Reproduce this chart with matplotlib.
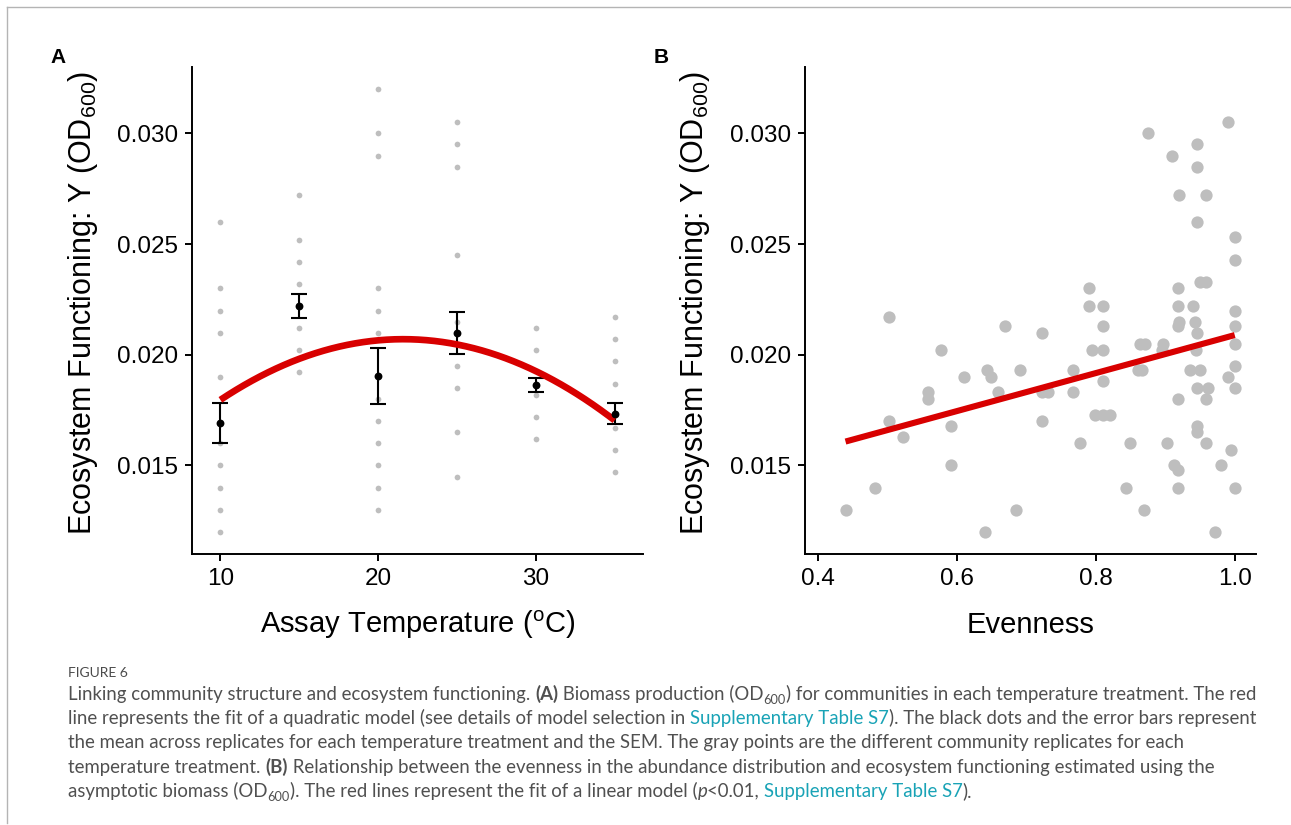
import matplotlib
matplotlib.use('Agg')
import matplotlib.pyplot as plt
from matplotlib.lines import Line2D
import numpy as np

W, H, DPI = 1291, 825, 100

# ---- panel A: replicate biomass per assay temperature ----
TEMPS = [10, 15, 20, 25, 30, 35]
REPS_10 = [0.026, 0.023, 0.022, 0.021, 0.019, 0.016, 0.015, 0.014, 0.013, 0.012]
REPS_15 = [0.0272, 0.0252, 0.0242, 0.0232, 0.0212, 0.0202, 0.0192]
REPS_20 = [0.032, 0.030, 0.029, 0.023, 0.022, 0.021, 0.018, 0.017, 0.016, 0.015, 0.014, 0.013]
REPS_25 = [0.0305, 0.0295, 0.0285, 0.0245, 0.0215, 0.0195, 0.0185, 0.0165, 0.0145]
REPS_30 = [0.0212, 0.0202, 0.0182, 0.0172, 0.0162]
REPS_35 = [0.0217, 0.0207, 0.0197, 0.0187, 0.0167, 0.0157, 0.0147]
REPS = [REPS_10, REPS_15, REPS_20, REPS_25, REPS_30, REPS_35]
MEAN_A = [0.01692, 0.02219, 0.01904, 0.02099, 0.01863, 0.01734]
SEM_A = [0.00092, 0.00055, 0.00126, 0.00096, 0.00030, 0.00048]
QUAD_COEF = [0.011192, 8.81e-4, -2.04e-5]   # c0 + c1*T + c2*T^2

# ---- panel B: evenness vs biomass ----
EVENNESS = [0.440, 0.482, 0.503, 0.503, 0.523, 0.558, 0.559, 0.577, 0.592, 0.592,
            0.610, 0.640, 0.644, 0.650, 0.659, 0.670, 0.686, 0.691, 0.722, 0.722,
            0.722, 0.732, 0.767, 0.767, 0.777, 0.790, 0.790, 0.794, 0.799, 0.811,
            0.811, 0.811, 0.811, 0.810, 0.821, 0.843, 0.850, 0.864, 0.871, 0.861,
            0.866, 0.870, 0.875, 0.897, 0.895, 0.903, 0.910, 0.913, 0.918, 0.918,
            0.918, 0.918, 0.920, 0.920, 0.918, 0.918, 0.935, 0.940, 0.943, 0.945,
            0.946, 0.946, 0.946, 0.944, 0.950, 0.946, 0.945, 0.946, 0.950, 0.959,
            0.959, 0.961, 0.958, 0.959, 0.971, 0.980, 0.991, 0.991, 0.994, 1.000,
            1.000, 1.000, 1.000, 1.000, 1.000, 1.000, 1.000]
BIOMASS_B = [0.0130, 0.0140, 0.0217, 0.0170, 0.0163, 0.0183, 0.0180, 0.0202, 0.0168, 0.0150,
             0.0190, 0.0120, 0.0193, 0.0190, 0.0183, 0.0213, 0.0130, 0.0193, 0.0210, 0.0183,
             0.0170, 0.0183, 0.0193, 0.0183, 0.0160, 0.0230, 0.0222, 0.0202, 0.0173, 0.0222,
             0.0213, 0.0202, 0.0188, 0.0173, 0.0173, 0.0140, 0.0160, 0.0205, 0.0205, 0.0193,
             0.0193, 0.0130, 0.0300, 0.0205, 0.0202, 0.0160, 0.0290, 0.0150, 0.0148, 0.0140,
             0.0230, 0.0222, 0.0272, 0.0215, 0.0213, 0.0180, 0.0193, 0.0222, 0.0215, 0.0295,
             0.0285, 0.0260, 0.0210, 0.0202, 0.0193, 0.0185, 0.0168, 0.0165, 0.0233, 0.0233,
             0.0272, 0.0185, 0.0180, 0.0160, 0.0120, 0.0150, 0.0305, 0.0190, 0.0157, 0.0253,
             0.0243, 0.0220, 0.0213, 0.0205, 0.0195, 0.0185, 0.0140]
LIN_COEF = [0.01230, 0.00859]   # intercept, slope

YTICKS = [0.015, 0.020, 0.025, 0.030]
YTICK_LABELS = ['0.015', '0.020', '0.025', '0.030']
XTICKS_A = [10, 20, 30]
XTICKS_B = [0.4, 0.6, 0.8, 1.0]
XTICK_LABELS_B = ['0.4', '0.6', '0.8', '1.0']

COLORS = {
    'rep': '#bebebe',
    'fit': '#d80000',
    'mean': 'black',
    'caption': '#505050',
    'link': '#19a3b6',
    'frame': '#b4b4b4',
}

plt.rcParams.update({
    'font.family': ['Liberation Sans', 'DejaVu Sans'],
    'mathtext.fontset': 'custom',
    'mathtext.rm': 'Liberation Sans',
    'mathtext.it': 'Liberation Sans:italic',
    'axes.linewidth': 1.4,
    'xtick.major.width': 1.4,
    'ytick.major.width': 1.4,
    'xtick.major.size': 5,
    'ytick.major.size': 5,
    'xtick.labelsize': 17.5,
    'ytick.labelsize': 17.5,
    'xtick.major.pad': 5,
    'ytick.major.pad': 5,
})

YLABEL = 'Ecosystem Functioning: Y (OD$_{600}$)'
CAP_FONT = 'Lato'


def px_axes(fig, left, top, right, bottom):
    return fig.add_axes([left / W, 1 - bottom / H, (right - left) / W, (bottom - top) / H])


def style_axes(ax):
    ax.spines['top'].set_visible(False)
    ax.spines['right'].set_visible(False)
    ax.set_ylim(0.011, 0.033)
    ax.set_yticks(YTICKS)
    ax.set_yticklabels(YTICK_LABELS)
    ax.tick_params(colors='black')


def text_width(fig, renderer, s, **kw):
    # measure with a trailing bar so spaces are counted
    t = fig.text(0, 0, s + '|', **kw)
    b = fig.text(0, 0, '|', **kw)
    w = t.get_window_extent(renderer).width - b.get_window_extent(renderer).width
    t.remove()
    b.remove()
    return w


def part_kw(style, size):
    kw = dict(family=CAP_FONT, fontsize=size, color=COLORS['caption'])
    if style == 'b':
        kw['weight'] = 'bold'
    elif style == 'link':
        kw['color'] = COLORS['link']
    elif style == 'i':
        kw['style'] = 'italic'
    elif style == 'sub':
        kw['fontsize'] = size * 0.68
    return kw


def caption_line(fig, renderer, x, y, parts, size, draw=True):
    for s, style in parts:
        kw = part_kw(style, size)
        base = y + (4 if style == 'sub' else 0)
        if draw:
            fig.text(x / W, 1 - base / H, s, va='baseline', ha='left', **kw)
        x += text_width(fig, renderer, s, **kw)
    return x


def main():
    fig = plt.figure(figsize=(W / DPI, H / DPI), dpi=DPI)
    fig.patch.set_facecolor('white')

    # panel A
    ax = px_axes(fig, 192, 67, 643, 554)
    for t, r in zip(TEMPS, REPS):
        ax.scatter(np.full(len(r), t), r, s=17, color=COLORS['rep'], lw=0, zorder=1)
    ax.errorbar(TEMPS, MEAN_A, yerr=SEM_A, fmt='none', ecolor='black',
                elinewidth=1.5, capsize=5.8, capthick=1.5, zorder=2)
    tt = np.linspace(TEMPS[0], TEMPS[-1], 200)
    ax.plot(tt, QUAD_COEF[0] + QUAD_COEF[1] * tt + QUAD_COEF[2] * tt ** 2,
            color=COLORS['fit'], lw=4.8, solid_capstyle='butt', zorder=3)
    ax.scatter(TEMPS, MEAN_A, s=32, color=COLORS['mean'], lw=0, zorder=4)
    style_axes(ax)
    ax.set_xlim(8.2, 36.8)
    ax.set_xticks(XTICKS_A)
    ax.set_xlabel('Assay Temperature ($^{\\mathrm{o}}$C)', fontsize=21, va='center')
    ax.xaxis.set_label_coords(0.5, -0.145)
    ax.set_ylabel(YLABEL, fontsize=22, va='center')
    ax.yaxis.set_label_coords(-0.242, 0.515)

    # panel B
    bx = px_axes(fig, 805, 67, 1256, 554)
    bx.scatter(EVENNESS, BIOMASS_B, s=78, color=COLORS['rep'], lw=0, zorder=1)
    ee = np.array([min(EVENNESS), max(EVENNESS)])
    bx.plot(ee, LIN_COEF[0] + LIN_COEF[1] * ee, color=COLORS['fit'], lw=4.4,
            solid_capstyle='butt', zorder=2)
    style_axes(bx)
    bx.set_xlim(0.3817, 1.0306)
    bx.set_xticks(XTICKS_B)
    bx.set_xticklabels(XTICK_LABELS_B)
    bx.set_xlabel('Evenness', fontsize=21, va='center')
    bx.xaxis.set_label_coords(0.5, -0.145)
    bx.set_ylabel(YLABEL, fontsize=22, va='center')
    bx.yaxis.set_label_coords(-0.244, 0.515)

    fig.text(50 / W, 1 - 63 / H, 'A', fontsize=15, weight='bold', va='baseline')
    fig.text(654 / W, 1 - 63 / H, 'B', fontsize=15, weight='bold', va='baseline')

    # page frame (only top and left edges show)
    fig.add_artist(Line2D([7 / W, 1], [1 - 7 / H, 1 - 7 / H], color=COLORS['frame'], lw=1))
    fig.add_artist(Line2D([7 / W, 7 / W], [1 - 7 / H, 1 - 823 / H], color=COLORS['frame'], lw=1))

    # caption
    renderer = fig.canvas.get_renderer()
    lines = [
        [('Linking community structure and ecosystem functioning. ', ''), ('(A)', 'b'),
         (' Biomass production (OD', ''), ('600', 'sub'),
         (') for communities in each temperature treatment. The red', '')],
        [('line represents the fit of a quadratic model (see details of model selection in ', ''),
         ('Supplementary Table S7', 'link'), ('). The black dots and the error bars represent', '')],
        [('the mean across replicates for each temperature treatment and the SEM. The gray points '
          'are the different community replicates for each', '')],
        [('temperature treatment. ', ''), ('(B)', 'b'),
         (' Relationship between the evenness in the abundance distribution and ecosystem '
          'functioning estimated using the', '')],
        [('asymptotic biomass (OD', ''), ('600', 'sub'),
         ('). The red lines represent the fit of a linear model (', ''), ('p', 'i'),
         ('<0.01, ', ''), ('Supplementary Table S7', 'link'), (').', '')],
    ]
    base_size = 12.0
    w1 = caption_line(fig, renderer, 0, 0, lines[0], base_size, draw=False)
    cap_size = base_size * 1190 / w1

    fig.text(68 / W, 1 - 677 / H, 'FIGURE 6', family=CAP_FONT, fontsize=10,
             color='#4a4a4a', va='baseline')
    for i, parts in enumerate(lines):
        caption_line(fig, renderer, 68, 700 + i * 24.2, parts, cap_size)

    fig.savefig('out.png', dpi=DPI, facecolor='white')
    plt.close(fig)


if __name__ == '__main__':
    main()
